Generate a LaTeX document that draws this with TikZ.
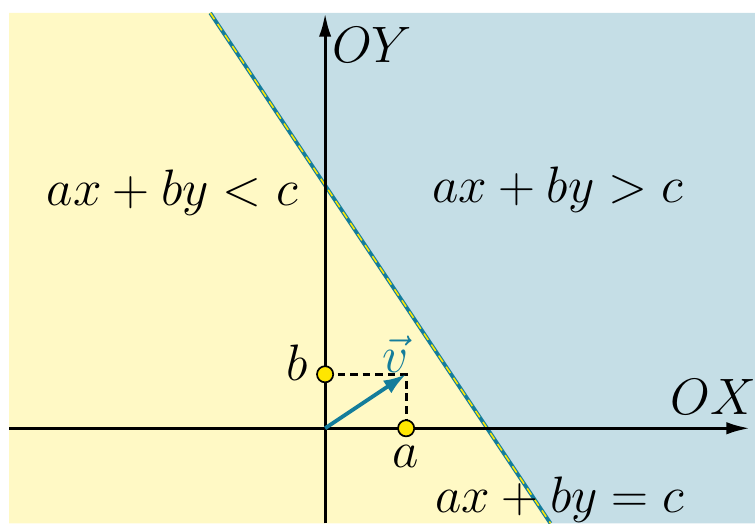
\documentclass[tikz,border=0pt]{standalone}
\usepackage{amsmath, amssymb}
\usepackage{tikz}
\usetikzlibrary{arrows.meta, positioning, calc}
\definecolor{jaune}{RGB}{255,249,197}
\definecolor{ciel}{RGB}{197,222,230}
\definecolor{sarcelle}{RGB}{20,125,155}
\definecolor{soleil}{RGB}{255,230,0}

\begin{document}
\begin{tikzpicture}[font=\Huge,
		texte/.style={scale=1.085},
		point/.style={circle, draw=black, fill=soleil, line width=0.9pt, inner sep=0pt, minimum size=0.3cm},
		axe/.style={line width=1.7pt, -{Latex[length=0.44cm, width=0.23cm]}}]
	% demi-plans de part et d'autre de la droite ax+by=c (a=1.5, b=1, c=4.5)
	\useasboundingbox (-6.02,-1.76) rectangle (7.96,7.93);
	\coordinate (P) at (-2.127,7.69);
	\coordinate (Q) at (4.173,-1.76);
	\fill[jaune] (-5.85,-1.76) -- (-5.85,7.69) -- (P) -- (Q) -- cycle;
	\fill[ciel] (P) -- (7.96,7.69) -- (7.96,-1.76) -- (Q) -- cycle;
	\draw[sarcelle, line width=2pt] (P) -- (Q);
	\draw[soleil, line width=0.8pt, dash pattern=on 4pt off 3pt] (P) -- (Q);
	% axes
	\coordinate (O) at (0,0);
	\coordinate (xg) at (-5.85,0);
	\coordinate (xd) at (7.87,0);
	\coordinate (yb) at (0,-1.76);
	\coordinate (yh) at (0,7.69);
	\draw[axe] (xg) -- (xd);
	\draw[axe] (yb) -- (yh);
	\node[texte] (ox) at (7.19,0.58) {$OX$};
	\node[texte] (oy) at (0.87,7.09) {$OY$};
	% vecteur normal
	\coordinate (A) at (1.5,0);
	\coordinate (B) at (0,1);
	\coordinate (V) at (1.5,1);
	\draw[line width=1.5pt, dash pattern=on 4pt off 2.6pt] (B) -- (V) -- (A);
	\draw[sarcelle, line width=2pt, -{Latex[length=0.42cm, width=0.28cm]}] (O) -- (V);
	\node[point] (a) at (A) {};
	\node[point] (b) at (B) {};
	\node[texte, below=0.02cm of a] (la) {$a$};
	\node[texte] (lb) at (-0.52,1.22) {$b$};
	\node[texte, sarcelle] (lv) at (1.30,1.38) {$\vec{v}$};
	% inégalités
	\node[texte] (inf) at (-2.83,4.37) {$ax+by<c$};
	\node[texte] (sup) at (4.31,4.41) {$ax+by>c$};
	\node[texte] (egal) at (4.35,-1.33) {$ax+by=c$};
\end{tikzpicture}
\end{document}
